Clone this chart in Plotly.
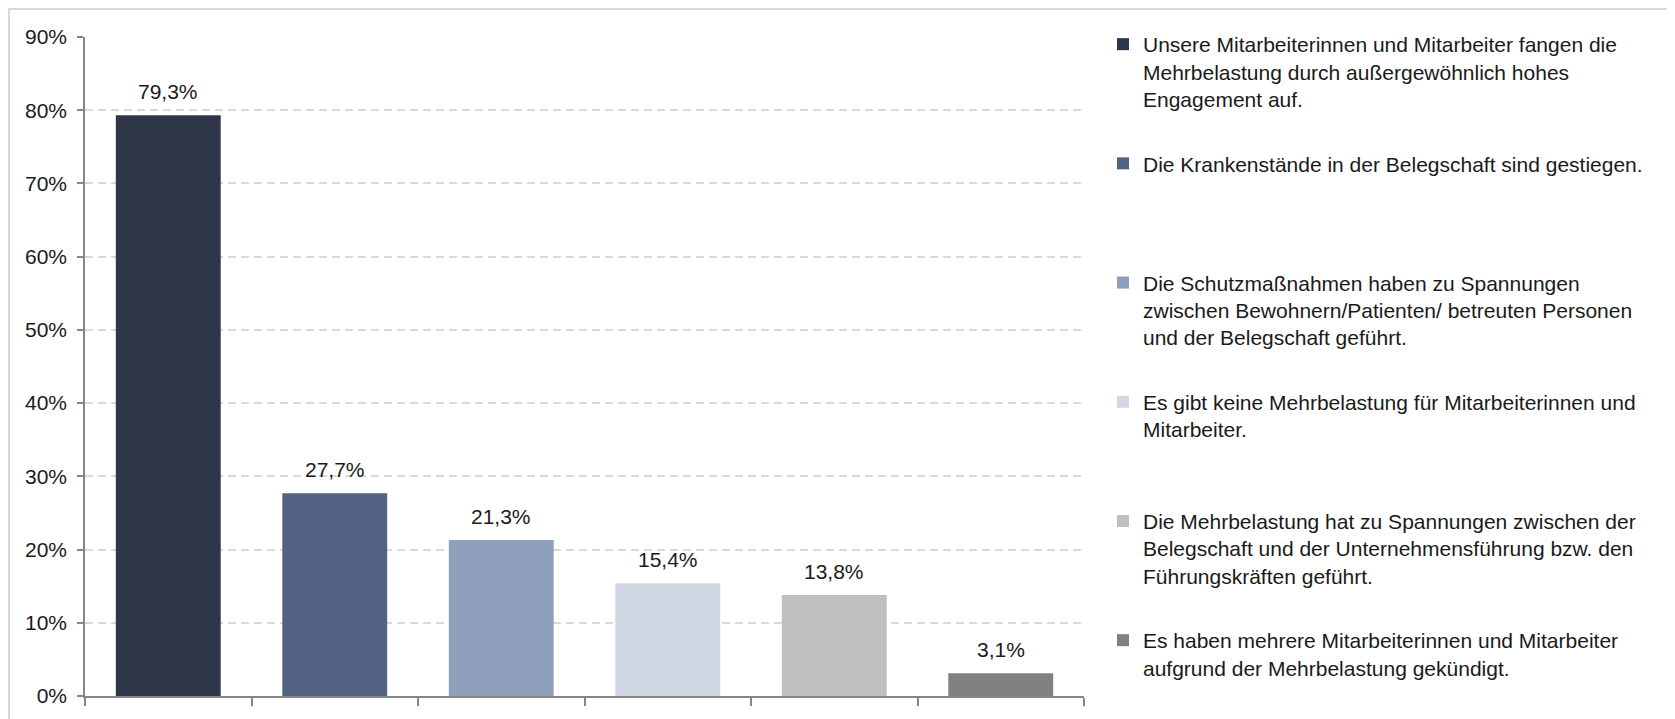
import plotly.graph_objects as go

# ---- data ----
categories = [
    "Unsere Mitarbeiterinnen und Mitarbeiter fangen die Mehrbelastung durch außergewöhnlich hohes Engagement auf.",
    "Die Krankenstände in der Belegschaft sind gestiegen.",
    "Die Schutzmaßnahmen haben zu Spannungen zwischen Bewohnern/Patienten/ betreuten Personen und der Belegschaft geführt.",
    "Es gibt keine Mehrbelastung für Mitarbeiterinnen und Mitarbeiter.",
    "Die Mehrbelastung hat zu Spannungen zwischen der Belegschaft und der Unternehmensführung bzw. den Führungskräften geführt.",
    "Es haben mehrere Mitarbeiterinnen und Mitarbeiter aufgrund der Mehrbelastung gekündigt.",
]
legend_labels = [
    "Unsere Mitarbeiterinnen und Mitarbeiter fangen die<br>Mehrbelastung durch außergewöhnlich hohes<br>Engagement auf.",
    "Die Krankenstände in der Belegschaft sind gestiegen.",
    "Die Schutzmaßnahmen haben zu Spannungen<br>zwischen Bewohnern/Patienten/ betreuten Personen<br>und der Belegschaft geführt.",
    "Es gibt keine Mehrbelastung für Mitarbeiterinnen und<br>Mitarbeiter.",
    "Die Mehrbelastung hat zu Spannungen zwischen der<br>Belegschaft und der Unternehmensführung bzw. den<br>Führungskräften geführt.",
    "Es haben mehrere Mitarbeiterinnen und Mitarbeiter<br>aufgrund der Mehrbelastung gekündigt.",
]
values = [79.3, 27.7, 21.3, 15.4, 13.8, 3.1]
colors = ["#2e364a", "#536183", "#8f9ebb", "#d0d7e3", "#bfbfbf", "#808080"]
y_ticks = [0, 10, 20, 30, 40, 50, 60, 70, 80, 90]
y_tick_labels = ["0%", "10%", "20%", "30%", "40%", "50%", "60%", "70%", "80%", "90%"]

FONT = "Liberation Sans, Arial, sans-serif"
FS = 21
N_LINES = 4

fig = go.Figure()
for i, (cat, lab, v, c) in enumerate(zip(categories, legend_labels, values, colors)):
    n = lab.count("<br>") + 1
    pad = 0 if i == len(categories) - 1 else N_LINES - n
    padded = lab + "<br> " * pad
    fig.add_trace(go.Bar(
        x=[cat], y=[v], name=padded, legendgroup=cat,
        marker=dict(color=c, line=dict(width=0)),
        hoverinfo="y",
    ))
    fig.add_annotation(
        x=cat, y=v, xref="x", yref="y",
        text=f"{v:.1f}%".replace(".", ","),
        showarrow=False, yanchor="bottom", yshift=10,
        font=dict(family=FONT, size=FS, color="#1a1a1a"),
    )

# outer light border
fig.add_shape(type="rect", xref="paper", yref="paper",
              x0=-0.0761, x1=1.5886, y0=-0.1, y1=1.0425,
              line=dict(color="#d9d9d9", width=2), fillcolor="rgba(0,0,0,0)",
              layer="below")

fig.update_layout(
    width=1675, height=719,
    margin=dict(l=77, r=599, t=29, b=31, autoexpand=False),
    paper_bgcolor="white", plot_bgcolor="white",
    barmode="overlay", bargap=0.37,
    font=dict(family=FONT, size=FS, color="#1a1a1a"),
    showlegend=True,
    legend=dict(
        x=1.019, y=1.0197, xanchor="left", yanchor="top",
        traceorder="grouped", tracegroupgap=7, valign="top",
        maxheight=719,
        font=dict(family=FONT, size=FS, color="#1a1a1a"),
        bgcolor="rgba(0,0,0,0)", borderwidth=0,
    ),
    xaxis=dict(
        type="category", categoryorder="array", categoryarray=categories,
        showticklabels=False, showgrid=False, zeroline=False,
        showline=True, linecolor="#868686", linewidth=1.5,
        ticks="outside", tickson="boundaries", ticklen=8,
        tickcolor="#868686", tickwidth=1.5,
    ),
    yaxis=dict(
        range=[0, 90], tickvals=y_ticks, ticktext=y_tick_labels,
        showgrid=True, gridcolor="#d9d9d9", gridwidth=1.5, griddash="8px,5px",
        zeroline=False, showline=True, linecolor="#868686", linewidth=1.5,
        ticks="outside", ticklen=6, tickcolor="#868686", tickwidth=1.5,
        tickfont=dict(family=FONT, size=FS, color="#1a1a1a"),
        ticklabelstandoff=6,
    ),
)

fig.write_html("out.html")
